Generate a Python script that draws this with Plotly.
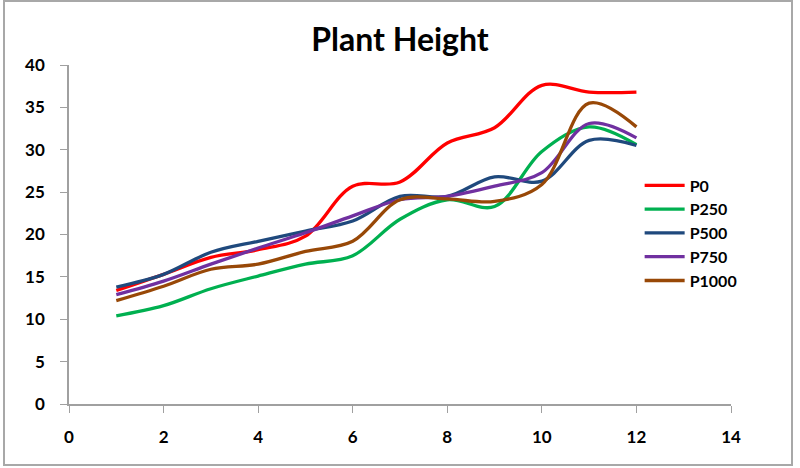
import plotly.graph_objects as go

weeks = [1, 2, 3, 4, 5, 6, 7, 8, 9, 10, 11, 12]
p0 = [13.4, 15.3, 17.3, 18.2, 19.8, 25.7, 26.2, 30.8, 32.6, 37.6, 36.8, 36.8]
p250 = [10.4, 11.6, 13.6, 15.1, 16.5, 17.5, 21.8, 24.1, 23.3, 29.8, 32.7, 30.6]
p500 = [13.8, 15.3, 17.9, 19.2, 20.4, 21.6, 24.5, 24.5, 26.8, 26.3, 31.1, 30.5]
p750 = [12.9, 14.5, 16.5, 18.4, 20.2, 22.2, 24.1, 24.5, 25.7, 27.3, 33.1, 31.4]
p1000 = [12.2, 13.9, 15.9, 16.5, 18.0, 19.2, 24.1, 24.2, 23.9, 25.9, 35.5, 32.7]

names = ["P0", "P250", "P500", "P750", "P1000"]
series = [p0, p250, p500, p750, p1000]
colors = ["#FF0000", "#00B050", "#1F497D", "#7030A0", "#984807"]

fig = go.Figure()
for n, s, c in zip(names, series, colors):
    fig.add_trace(go.Scatter(x=weeks, y=s, name=n, mode="lines",
                             line=dict(color=c, width=3.3, shape="spline", smoothing=1.0)))

font_fam = "Lato, 'Open Sans', sans-serif"
fig.update_layout(
    width=800, height=468,
    paper_bgcolor="white", plot_bgcolor="white",
    margin=dict(l=69, r=69, t=65, b=64),
    title=dict(text="<b>Plant Height</b>", x=0.5, xanchor="center", y=0.915, yanchor="middle",
               font=dict(family=font_fam, size=32, color="black")),
    xaxis=dict(range=[0, 14], dtick=2, tick0=0, showgrid=False, zeroline=False,
               showline=True, linecolor="#A0A0A0", linewidth=1.5,
               ticks="outside", ticklen=7, tickcolor="#A0A0A0",
               tickfont=dict(family=font_fam, size=17, color="black", weight="bold"),
               ticklabelstandoff=10),
    yaxis=dict(range=[0, 40], dtick=5, tick0=0, showgrid=False, zeroline=False,
               showline=True, linecolor="#A0A0A0", linewidth=1.5,
               ticks="outside", ticklen=7, tickcolor="#A0A0A0",
               tickfont=dict(family=font_fam, size=17, color="black", weight="bold"),
               ticklabelstandoff=12),
    legend=dict(x=0.862, y=0.695, xanchor="left", yanchor="top",
                font=dict(family=font_fam, size=16, color="black", weight="bold"),
                bgcolor="rgba(0,0,0,0)", tracegroupgap=0, itemwidth=40),
    showlegend=True,
)

# outer border of the chart area
fig.add_shape(type="rect", xref="paper", yref="paper",
              x0=-65/662, x1=1 + 61/662, y0=-61/339, y1=1 + 64/339,
              line=dict(color="#A8A8A8", width=2), fillcolor="rgba(0,0,0,0)", layer="below")

fig.write_html("out.html", config={"displayModeBar": False},
               post_script="document.body.style.margin='0';document.body.style.padding='0';")
